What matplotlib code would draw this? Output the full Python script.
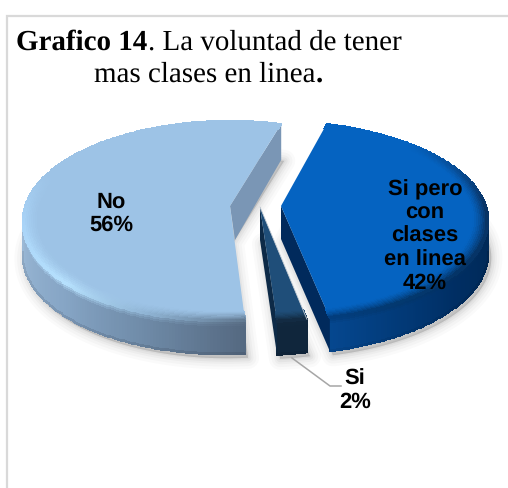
import numpy as np
import matplotlib
matplotlib.use("Agg")
import matplotlib.pyplot as plt
from matplotlib.colors import to_rgb

plt.rcParams["text.hinting"] = "none"
plt.rcParams["text.hinting_factor"] = 1

categories = ["Si pero\ncon\nclases\nen linea", "Si", "No"]
values = [42, 2, 56]
title_line1 = [("Grafico 14", "bold"), (". La voluntad de tener", "normal")]
title_line2 = [("mas clases en linea", "normal"), (".", "bold")]

W, H = 508, 488
START = 16.6
R, S, K, DEPTH = 205.0, 98.0, 0.15, 33.0
apexes = [(281, 206), (260, 207), (230, 206)]
back_shift = [-6, 0, 0]
front_shift = [-2, -4, -6]
tops = ["#0563c1", "#1f4e79", "#9dc3e6"]
cut_cols = ["#012a5c", "#0d2a47", "#7a96b5"]
# (clockwise angle in degrees, wall colour, rim colour)
shades = [
    [(0, "#0563c1", "#0563c1"), (45, "#00264f", "#0563c1"), (90, "#00264f", "#0a2f5c"),
     (130, "#002e63", "#04305f"), (150, "#023a78", "#033568"), (168, "#05478f", "#023a78")],
    [(167, "#10263c", "#12283e"), (176, "#10263c", "#12283e")],
    [(175, "#546880", "#5c7289"), (200, "#6f8ba8", "#8fb4d4"), (225, "#86a5c5", "#b8e3ff"),
     (262, "#9bb9d6", "#a9d4f8"), (290, "#9bb9d6", "#9dc3e6"), (380, "#9bb9d6", "#9dc3e6")],
]
label_pos = [(425, 236.5), None, (111.5, 213.5)]
FS = 15.6
LS = 1.17


fig = plt.figure(figsize=(W / 100, H / 100), dpi=100, facecolor="white")
ax = fig.add_axes([0, 0, 1, 1])
ax.set_xlim(0, W)
ax.set_ylim(H, 0)
ax.axis("off")


def project(i, r, theta):
    apex = apexes[i]
    t = np.radians(theta)
    u, v = r * np.sin(t), r * np.cos(t)
    d = 1 + K * v
    lean = np.where(v > 0, back_shift[i], front_shift[i]) * v ** 2
    return apex[0] + R * u / d + lean, apex[1] - S * v / d


def shade(table, thetas, idx):
    angs = [row[0] for row in table]
    cols = np.array([to_rgb(row[idx]) for row in table])
    return np.stack([np.interp(thetas, angs, cols[:, c]) for c in range(3)], axis=-1)


# chart border
ax.plot([6.5, 6.5, W], [H, 15.5, 15.5], color="#d9d9d9", lw=1.6, solid_joinstyle="miter", zorder=1)

# slice angles from the values
total = sum(values)
angle = START
spans = []
for v in values:
    spans.append((angle, angle + 360 * v / total))
    angle = spans[-1][1]

# soft shadows
for i, (a0, a1) in enumerate(spans):
    th = np.linspace(a0, a1, 200)
    x, y = project(i, 1.0, th)
    px = np.r_[apexes[i][0], x] + 3
    py = np.r_[apexes[i][1], y] + DEPTH + 4
    for lw, al in zip([16, 12, 8, 5, 2], [.018, .022, .028, .035, .04]):
        ax.fill(px, py, facecolor=(0, 0, 0, al), edgecolor=(0, 0, 0, al), lw=lw, joinstyle="round", zorder=2)

for i, (a0, a1) in enumerate(spans):
    apex = apexes[i]
    z = 3 + i * 5
    th = np.linspace(a0, a1, 260)
    table = shades[i]
    top = np.array(to_rgb(tops[i]))
    vis = th[(np.cos(np.radians(th)) < -K + 0.02)]

    # outer wall
    if len(vis) > 1:
        xs, ys = project(i, 1.0, vis)
        hs = np.array([0, 2, 4, 6, 8, DEPTH - 1, DEPTH])
        X = np.stack([xs for _ in hs])
        Y = np.stack([ys + h for h in hs])
        wall = shade(table, (vis[:-1] + vis[1:]) / 2, 1)
        rim = shade(table, (vis[:-1] + vis[1:]) / 2, 2)
        fr = np.array([0.15, .45, .75, 1.0, 1.0, 1.1])
        C = np.stack([rim + (wall - rim) * f for f in fr])
        C = np.clip(C * np.array([1, 1, 1, 1, 1, .93])[:, None, None], 0, 1)
        ax.pcolormesh(X, Y, C, shading="flat", edgecolors="face", linewidth=0.3, zorder=z)

    # straight cut face
    cx, cy = project(i, 1.0, a1)
    if i == 2:
        ax.fill([apex[0], cx, cx, apex[0] + 5], [apex[1], cy, cy + 36, apex[1] + 34],
                color=cut_cols[i], lw=0, zorder=z)
    else:
        ax.fill([apex[0], cx, cx, apex[0]], [apex[1], cy, cy + DEPTH, apex[1] + DEPTH],
                color=cut_cols[i], lw=0, zorder=z)

    # top face
    x, y = project(i, 1.0, th)
    ax.fill(np.r_[apex[0], x], np.r_[apex[1], y], color=tops[i], lw=0, zorder=z + 1)

    # bevel ring on the top face
    rs = np.linspace(0.93, 1.0, 9)
    X = np.stack([project(i, r, th)[0] for r in rs])
    Y = np.stack([project(i, r, th)[1] for r in rs])
    rim = shade(table, (th[:-1] + th[1:]) / 2, 2)
    fr = (np.arange(8) + 0.5) / 8
    C = np.stack([top + (rim - top) * f ** 1.4 for f in fr])
    ax.pcolormesh(X, Y, C, shading="flat", edgecolors="face", linewidth=0.2, zorder=z + 2)

    if label_pos[i] is not None:
        ax.text(label_pos[i][0], label_pos[i][1], f"{categories[i]}\n{values[i]}%",
                family="Liberation Sans", weight="bold", fontsize=FS, color="black",
                ha="center", va="center", linespacing=LS, zorder=30)

# thin light edge of the small slice
ex, ey = project(1, 1.0, spans[1][0])
ax.plot([apexes[1][0], ex], [apexes[1][1], ey], color="#c4ccd4", lw=0.6, zorder=12)

# leader and outside label
ax.plot([292, 330, 341], [358, 386, 386], color="#a6a6a6", lw=1.1, zorder=3)
ax.text(355, 390.5, f"{categories[1]}\n{values[1]}%", family="Liberation Sans", weight="bold",
        fontsize=FS, ha="center", va="center", linespacing=LS, zorder=30)

# title, built from bold and regular runs
fig.canvas.draw()
rend = fig.canvas.get_renderer()
for runs, x0, base in [(title_line1, 16, 50), (title_line2, 94, 82)]:
    x = x0
    for s, w in runs:
        t = ax.text(x, base, s, family="Liberation Serif", weight=w, fontsize=21.05,
                    ha="left", va="baseline", color="black", zorder=30)
        x += t.get_window_extent(rend).width + 0.5

fig.savefig("out.png", dpi=100, facecolor="white")
